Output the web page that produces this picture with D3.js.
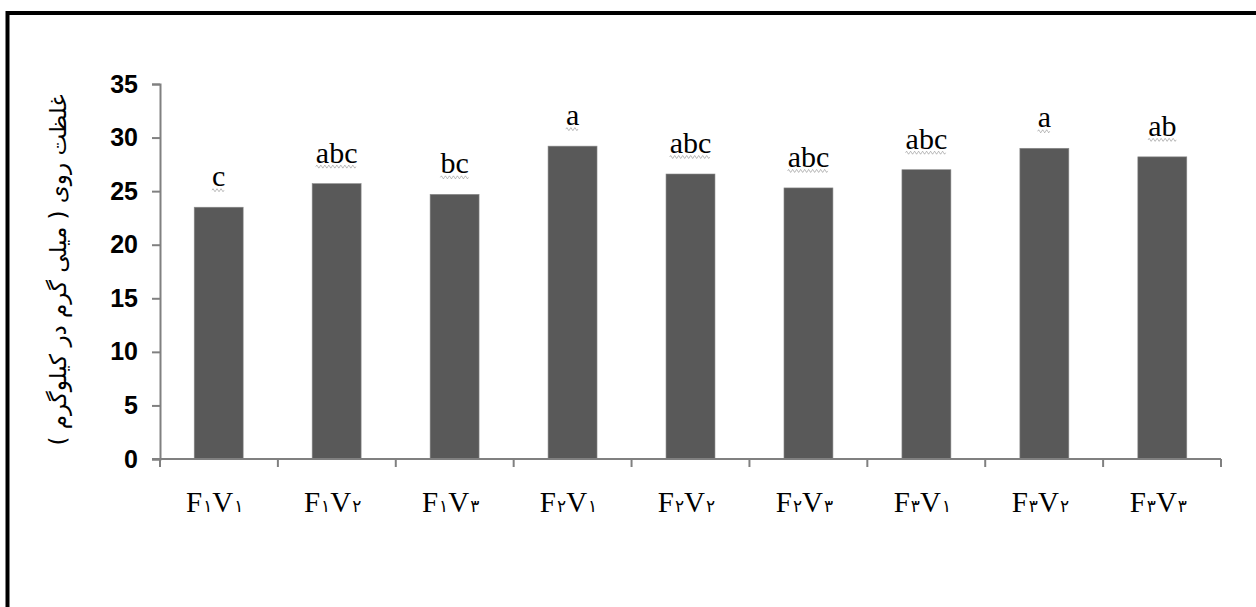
<!DOCTYPE html>
<html><head><meta charset="utf-8">
<script src="https://cdn.jsdelivr.net/npm/d3@7"></script>
<style>body{margin:0;background:#fff}svg{display:block}</style>
</head><body>
<svg id="c" width="1256" height="607"></svg>
<script>
const categories = ["F۱V۱","F۱V۲","F۱V۳","F۲V۱","F۲V۲","F۲V۳","F۳V۱","F۳V۲","F۳V۳"];
const values = [23.5, 25.7, 24.7, 29.2, 26.6, 25.3, 27.0, 29.0, 28.2];
const letters = ["c","abc","bc","a","abc","abc","abc","a","ab"];
const yTicks = [0,5,10,15,20,25,30,35];
const yTitle = "غلظت روی ( میلی گرم در کیلوگرم )";

const svg = d3.select("#c");
svg.append("rect").attr("x",7.5).attr("y",13).attr("width",1300).attr("height",700)
  .attr("fill","none").attr("stroke","#000").attr("stroke-width",4);

const x = d3.scaleBand().domain(categories).range([160,1221]).paddingInner(0.585).paddingOuter(0.29);
const y = d3.scaleLinear().domain([0,35]).range([459,84]);

// bars
svg.selectAll("rect.bar").data(values).enter().append("rect").attr("class","bar")
  .attr("x",(d,i)=>x(categories[i])).attr("width",x.bandwidth())
  .attr("y",d=>y(d)).attr("height",d=>y(0)-y(d))
  .attr("fill","#595959").attr("stroke","#8a8a8a").attr("stroke-width",0.6);

// y axis
const ya = svg.append("g").attr("transform","translate(160,0)")
  .call(d3.axisLeft(y).tickValues(yTicks).tickSize(8).tickPadding(14));
ya.select(".domain").attr("stroke","#808080").attr("stroke-width",2);
ya.selectAll(".tick line").attr("stroke","#808080").attr("stroke-width",2);
ya.selectAll(".tick text").attr("font-family","Liberation Sans, Arial, sans-serif")
  .attr("font-weight","bold").attr("font-size",25).attr("fill","#000");

// x axis with ticks at band boundaries
const xStart = 160, xEnd = 1221;
svg.append("line").attr("x1",152).attr("x2",xEnd).attr("y1",459).attr("y2",459)
  .attr("stroke","#808080").attr("stroke-width",2);
const bounds = d3.range(categories.length+1).map(i=>xStart + i*(xEnd-xStart)/categories.length);
svg.selectAll("line.xt").data(bounds).enter().append("line").attr("class","xt")
  .attr("x1",d=>d).attr("x2",d=>d).attr("y1",459).attr("y2",467)
  .attr("stroke","#808080").attr("stroke-width",2);

// x labels: Latin letters large, Persian digits small
svg.selectAll("text.xl").data(categories).enter().append("text").attr("class","xl")
  .attr("x",(d,i)=>x(d)+x.bandwidth()/2-4).attr("y",512)
  .attr("text-anchor","middle").attr("font-family","Liberation Serif, Times New Roman, serif")
  .attr("font-size",29).attr("fill","#000")
  .each(function(d){
    const t = d3.select(this);
    for(const ch of d){
      if(/[A-Z]/.test(ch)) t.append("tspan").text(ch);
      else t.append("tspan").attr("font-size",17).attr("font-family","DejaVu Sans, sans-serif").attr("dx",1).text(ch);
    }
  });

// letters
svg.selectAll("text.lt").data(letters).enter().append("text").attr("class","lt")
  .attr("x",(d,i)=>x(categories[i])+x.bandwidth()/2).attr("y",(d,i)=>y(values[i])-21)
  .attr("text-anchor","middle").attr("font-family","Liberation Serif, Times New Roman, serif")
  .attr("font-size",30).attr("fill","#000").text(d=>d)
  .each(function(d,i){
    const bb = this.getBBox();
    const yy = y(values[i])-17;
    let p = "M"+bb.x+","+yy;
    for(let k=0;k<Math.floor(bb.width/2);k++){ p += " l1,"+(k%2?1.5:-1.5)+" l1,"+(k%2?-1.5:1.5); }
    svg.append("path").attr("d",p).attr("fill","none").attr("stroke","#9a9a9a").attr("stroke-width",0.7);
  });

// y title
svg.append("text").attr("transform","translate(66,270) rotate(-90)")
  .attr("text-anchor","middle").attr("font-family","DejaVu Sans, Noto Sans, sans-serif")
  .attr("font-size",23).attr("fill","#000").attr("direction","rtl")
  .text(yTitle);
</script>
</body></html>
